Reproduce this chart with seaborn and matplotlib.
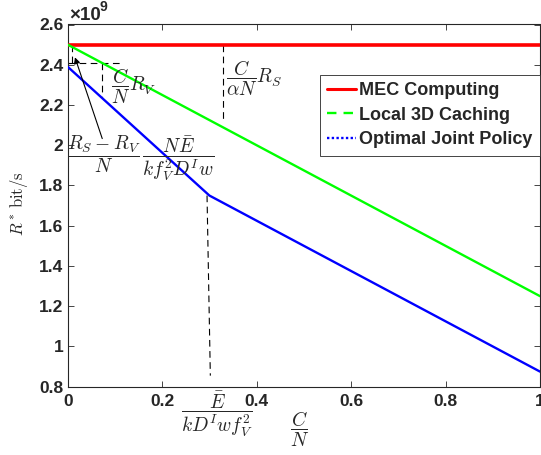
import numpy as np
import pandas as pd
import matplotlib
matplotlib.use("Agg")
import matplotlib.pyplot as plt
import seaborn as sns
from matplotlib.lines import Line2D
from matplotlib.ticker import FuncFormatter

# ---- data ----
series_names = ["MEC Computing", "Local 3D Caching", "Optimal Joint Policy"]
mec_x = [0.0, 1.0]
mec_y = [2.5e9, 2.5e9]
cache_x = [0.0, 1.0]
cache_y = [2.5e9, 1.25e9]
joint_x = [0.0, 0.3, 1.0]
joint_y = [2.39e9, 1.75e9, 0.875e9]
colors = ["#ff0000", "#00ff00", "#0000ff"]
xticks = [0, 0.2, 0.4, 0.6, 0.8, 1.0]
yticks = [0.8e9, 1.0e9, 1.2e9, 1.4e9, 1.6e9, 1.8e9, 2.0e9, 2.2e9, 2.4e9, 2.6e9]

sns.set_theme(style="white")
plt.rcParams['font.family'] = ['Liberation Sans', 'DejaVu Sans']
plt.rcParams['mathtext.fontset'] = 'cm'

W, H = 541, 455
fig = plt.figure(figsize=(W / 100, H / 100), dpi=100)
ax = fig.add_axes([67.7 / W, 1 - 386.7 / H, (540 - 67.7) / W, (386.7 - 24.5) / H])

df = pd.concat([
    pd.DataFrame({"x": mec_x, "y": mec_y, "s": series_names[0]}),
    pd.DataFrame({"x": cache_x, "y": cache_y, "s": series_names[1]}),
    pd.DataFrame({"x": joint_x, "y": joint_y, "s": series_names[2]}),
])
lws = [2.6, 1.7, 1.7]
for name, c, lw in zip(series_names, colors, lws):
    sns.lineplot(data=df[df.s == name], x="x", y="y", color=c, lw=lw, ax=ax,
                 legend=False, zorder=3)

ax.set_xlim(0, 1)
ax.set_ylim(0.8e9, 2.6e9)
ax.set_xticks(xticks)
ax.set_yticks(yticks)
ax.xaxis.set_major_formatter(FuncFormatter(lambda v, p: f"{v:g}"))
ax.yaxis.set_major_formatter(FuncFormatter(lambda v, p: f"{v/1e9:g}"))
ax.set_xlabel("")
ax.set_ylabel("")
for lab in ax.get_xticklabels() + ax.get_yticklabels():
    lab.set_fontweight("bold")
    lab.set_fontsize(12.5)
    lab.set_color("#262626")
ax.tick_params(direction="in", length=4, width=0.6, color="#262626",
               top=True, right=True, bottom=True, left=True, pad=3)
ax.tick_params(axis="x", pad=5)
for sp in ax.spines.values():
    sp.set_color("#262626")
    sp.set_linewidth(0.8)

# offset text
fig.text(69 / W, 1 - 15 / H, "×10", fontsize=13.5, fontweight="bold", color="#262626",
         va="center", ha="left")
fig.text(100 / W, 1 - 7 / H, "9", fontsize=10, fontweight="bold", color="#262626",
         va="center", ha="left")

# dashed helper lines
dk = dict(color="black", lw=0.8, ls=(0, (6, 4)), zorder=2)
ax.plot([0, 0.11], [2.41e9, 2.41e9], **dk)
ax.plot([0.072, 0.072], [2.41e9, 2.236e9], **dk)
ax.plot([0.009, 0.009], [2.5e9, 2.41e9], **dk)
ax.plot([0.328, 0.328], [2.5e9, 2.12e9], **dk)
ax.plot([0.295, 0.302], [1.75e9, 0.855e9], **dk)

ax.annotate("", xy=(0.0135, 2.45e9), xytext=(0.075, 2.02e9),
            arrowprops=dict(arrowstyle="-|>", color="black", lw=0.8,
                            mutation_scale=9), zorder=4)

# math annotations
def px(x, y):
    return x / W, 1 - y / H

fs = 14
fig.text(*px(111, 86), r"$\dfrac{C}{N}R_V$", fontsize=fs, va="center", ha="left")
fig.text(*px(226, 78), r"$\dfrac{C}{\alpha N}R_S$", fontsize=fs, va="center", ha="left")
fig.text(*px(67, 158), r"$\dfrac{R_S-R_V}{N}\,\dfrac{N\bar{E}}{kf_V^2D^Iw}$",
         fontsize=fs, va="center", ha="left")
fig.text(*px(217, 414), r"$\dfrac{\bar{E}}{kD^Iwf_V^2}$", fontsize=fs,
         va="center", ha="center")
fig.text(*px(300, 429), r"$\dfrac{C}{N}$", fontsize=fs, va="center", ha="center")
fig.text(*px(19, 204), r"$R^*\,\mathrm{bit/s}$", fontsize=12, va="center",
         ha="center", rotation=90)

# legend
handles = [
    Line2D([], [], color=colors[0], lw=2.2, ls="-"),
    Line2D([], [], color=colors[1], lw=1.7, ls=(0, (4, 3))),
    Line2D([], [], color=colors[2], lw=1.7, ls=(0, (1, 1))),
]
leg = ax.legend(handles, series_names, loc="upper right",
                bbox_to_anchor=(1.0, 1 - (75 - 24.5) / (386.7 - 24.5)),
                frameon=True, fancybox=False, framealpha=1, edgecolor="#262626",
                prop={"weight": "bold", "size": 13}, handlelength=1.6,
                handletextpad=0.2, borderpad=0.4, labelspacing=0.42,
                borderaxespad=0)
leg.get_frame().set_linewidth(0.6)

fig.savefig("out.png", dpi=100)
